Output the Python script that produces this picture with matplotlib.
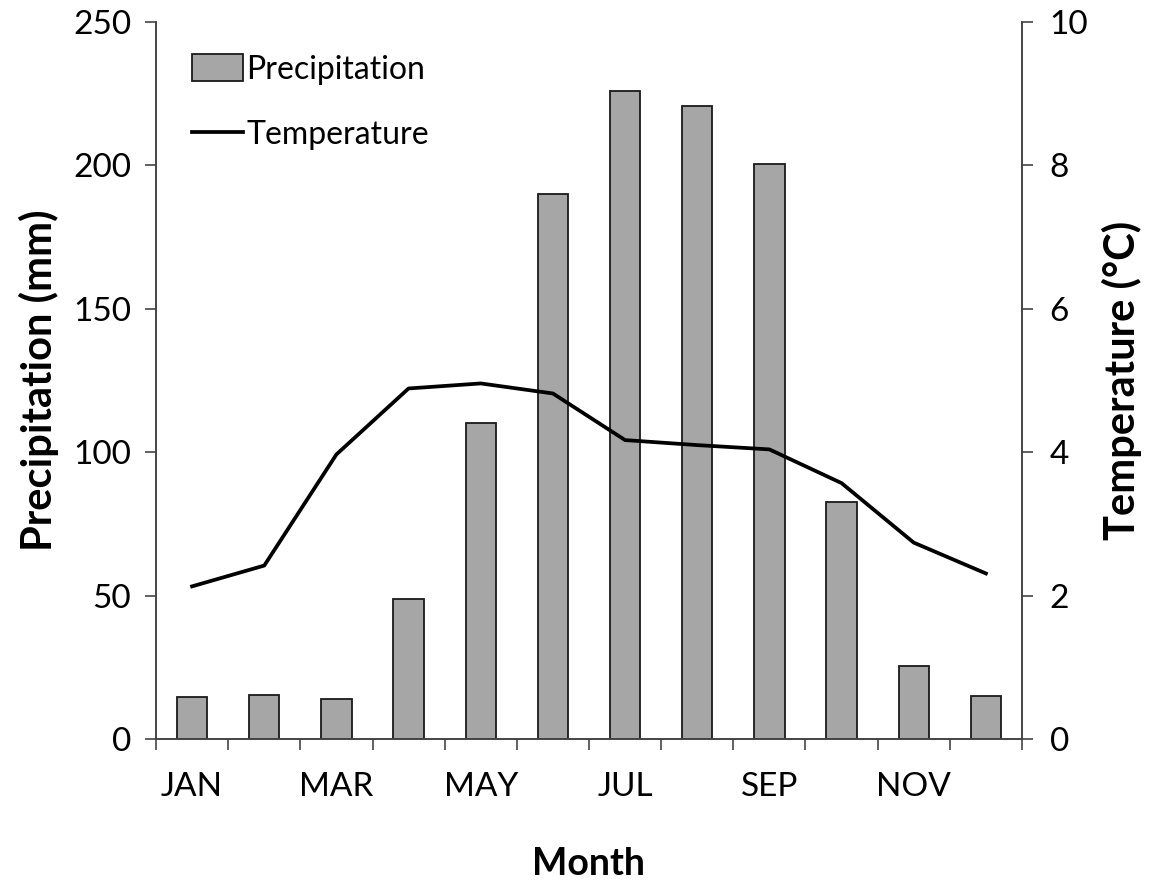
import matplotlib.pyplot as plt
import numpy as np

months = ['JAN', 'FEB', 'MAR', 'APR', 'MAY', 'JUN',
          'JUL', 'AUG', 'SEP', 'OCT', 'NOV', 'DEC']
precip_mm = [14.6, 15.3, 13.9, 48.8, 110.2, 190.0,
             225.9, 220.7, 200.5, 82.6, 25.4, 15.0]
temp_c = [2.13, 2.42, 3.97, 4.89, 4.96, 4.82,
          4.17, 4.10, 4.04, 3.57, 2.74, 2.31]

plt.rcParams['font.family'] = ['Lato', 'DejaVu Sans']

fig = plt.figure(figsize=(11.6, 8.83), dpi=100)
ax = fig.add_axes([0.1345, 0.163, 0.7465, 0.812])
x = np.arange(len(months))

bars = ax.bar(x, precip_mm, width=0.42, color='#a6a6a6',
              edgecolor='#1a1a1a', linewidth=1.3, label='Precipitation', zorder=2)
ax.set_xlim(-0.5, 11.5)
ax.set_ylim(0, 250)
ax.set_yticks(np.arange(0, 251, 50))

# month labels every other month, tick marks at category boundaries
ax.set_xticks(x[::2])
ax.set_xticklabels(months[::2])
ax.set_xticks(np.arange(-0.5, 12, 1), minor=True)
ax.tick_params(axis='x', which='major', length=0, pad=24, labelsize=24)
ax.tick_params(axis='x', which='minor', length=8, width=1.2, color='#444444')
ax.tick_params(axis='y', length=8, width=1.2, color='#444444', labelsize=24, pad=10)

ax.spines['top'].set_visible(False)
for s in ['left', 'bottom', 'right']:
    ax.spines[s].set_color('#444444')
    ax.spines[s].set_linewidth(1.2)

ax2 = ax.twinx()
line, = ax2.plot(x, temp_c, color='black', linewidth=2.7, label='Temperature', zorder=3)
ax2.set_ylim(0, 10)
ax2.set_yticks(np.arange(0, 11, 2))
ax2.tick_params(axis='y', length=8, width=1.2, color='#444444', labelsize=24, pad=12)
ax2.spines['top'].set_visible(False)
for s in ['left', 'bottom', 'right']:
    ax2.spines[s].set_color('#444444')
    ax2.spines[s].set_linewidth(1.2)

ax.set_ylabel('Precipitation (mm)', fontsize=30, fontweight='bold', labelpad=10)
ax2.set_ylabel('Temperature (°C)', fontsize=30, fontweight='bold', labelpad=10)
ax.set_xlabel('Month', fontsize=27, fontweight='bold', labelpad=32)

ax2.legend([bars, line], ['Precipitation', 'Temperature'], loc='upper left',
           bbox_to_anchor=(0.008, 0.995), frameon=False, fontsize=23,
           handlelength=1.6, handleheight=0.9, handletextpad=0.1, labelspacing=1.1)

fig.savefig('out.png', dpi=100)
